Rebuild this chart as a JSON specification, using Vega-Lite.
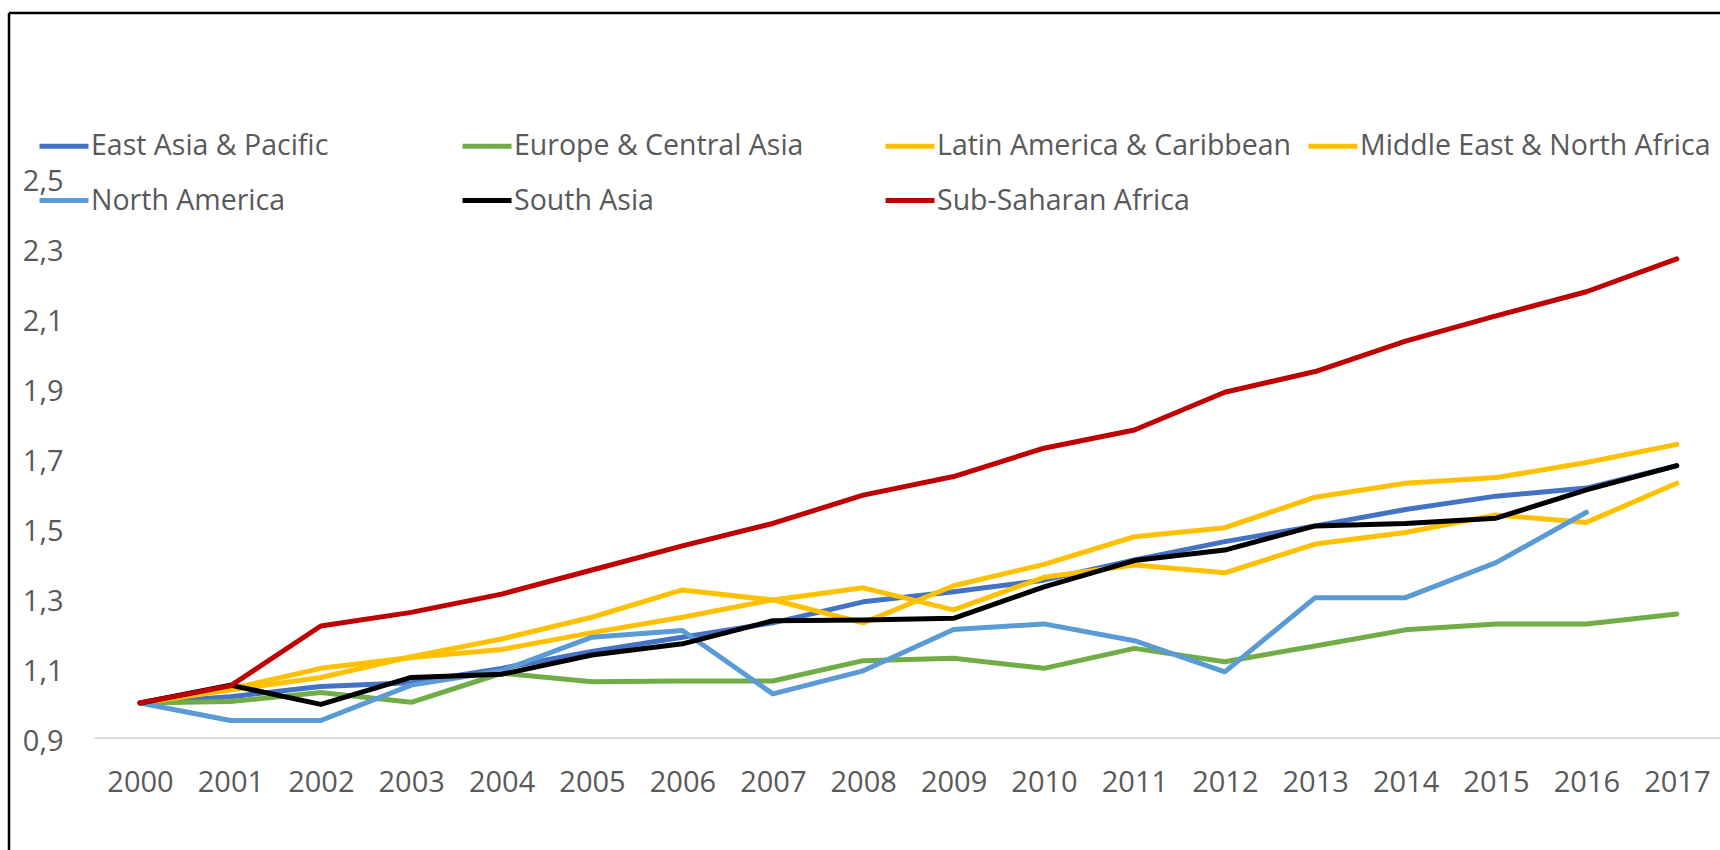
{
  "$schema": "https://vega.github.io/schema/vega-lite/v6.json",
  "width": 1711,
  "height": 837,
  "autosize": {"type": "none"},
  "padding": {"left": 9, "top": 13, "right": 0, "bottom": 0},
  "background": "#ffffff",
  "config": {
    "view": {"stroke": null},
    "font": "Open Sans",
    "axis": {"labelFont": "Open Sans", "labelFontSize": 29, "labelColor": "#595959", "grid": false, "domain": false, "ticks": false, "tickSize": 0, "title": null}
  },
  "layer": [
    {
      "data": {"values": [{"edge": 1998.5509}]},
      "mark": {"type": "rule", "color": "#000000", "strokeWidth": 2.5},
      "encoding": {"x": {"field": "edge", "type": "quantitative"}}
    },
    {
      "data": {"values": [{"edge": 2.97143}]},
      "mark": {"type": "rule", "color": "#000000", "strokeWidth": 2.5},
      "encoding": {"y": {"field": "edge", "type": "quantitative"}}
    },
    {
      "data": {"values": [{"x1": 1999.5, "x2": 2017.5, "y": 0.9}]},
      "mark": {"type": "rule", "color": "#d9d9d9", "strokeWidth": 2},
      "encoding": {
        "x": {"field": "x1", "type": "quantitative"},
        "x2": {"field": "x2"},
        "y": {"field": "y", "type": "quantitative"}
      }
    },
    {
      "data": {"values": [
        {"year": 2000, "region": "East Asia & Pacific", "value": 1.0},
        {"year": 2001, "region": "East Asia & Pacific", "value": 1.018},
        {"year": 2002, "region": "East Asia & Pacific", "value": 1.047},
        {"year": 2003, "region": "East Asia & Pacific", "value": 1.058},
        {"year": 2004, "region": "East Asia & Pacific", "value": 1.099},
        {"year": 2005, "region": "East Asia & Pacific", "value": 1.147},
        {"year": 2006, "region": "East Asia & Pacific", "value": 1.188},
        {"year": 2007, "region": "East Asia & Pacific", "value": 1.229},
        {"year": 2008, "region": "East Asia & Pacific", "value": 1.289},
        {"year": 2009, "region": "East Asia & Pacific", "value": 1.318},
        {"year": 2010, "region": "East Asia & Pacific", "value": 1.351},
        {"year": 2011, "region": "East Asia & Pacific", "value": 1.409},
        {"year": 2012, "region": "East Asia & Pacific", "value": 1.461},
        {"year": 2013, "region": "East Asia & Pacific", "value": 1.506},
        {"year": 2014, "region": "East Asia & Pacific", "value": 1.553},
        {"year": 2015, "region": "East Asia & Pacific", "value": 1.591},
        {"year": 2016, "region": "East Asia & Pacific", "value": 1.614},
        {"year": 2017, "region": "East Asia & Pacific", "value": 1.678},
        {"year": 2000, "region": "Europe & Central Asia", "value": 1.0},
        {"year": 2001, "region": "Europe & Central Asia", "value": 1.004},
        {"year": 2002, "region": "Europe & Central Asia", "value": 1.03},
        {"year": 2003, "region": "Europe & Central Asia", "value": 1.002},
        {"year": 2004, "region": "Europe & Central Asia", "value": 1.085},
        {"year": 2005, "region": "Europe & Central Asia", "value": 1.061},
        {"year": 2006, "region": "Europe & Central Asia", "value": 1.063},
        {"year": 2007, "region": "Europe & Central Asia", "value": 1.063},
        {"year": 2008, "region": "Europe & Central Asia", "value": 1.121},
        {"year": 2009, "region": "Europe & Central Asia", "value": 1.128},
        {"year": 2010, "region": "Europe & Central Asia", "value": 1.099},
        {"year": 2011, "region": "Europe & Central Asia", "value": 1.156},
        {"year": 2012, "region": "Europe & Central Asia", "value": 1.118},
        {"year": 2013, "region": "Europe & Central Asia", "value": 1.163},
        {"year": 2014, "region": "Europe & Central Asia", "value": 1.209},
        {"year": 2015, "region": "Europe & Central Asia", "value": 1.226},
        {"year": 2016, "region": "Europe & Central Asia", "value": 1.226},
        {"year": 2017, "region": "Europe & Central Asia", "value": 1.254},
        {"year": 2000, "region": "Latin America & Caribbean", "value": 1.0},
        {"year": 2001, "region": "Latin America & Caribbean", "value": 1.04},
        {"year": 2002, "region": "Latin America & Caribbean", "value": 1.099},
        {"year": 2003, "region": "Latin America & Caribbean", "value": 1.13},
        {"year": 2004, "region": "Latin America & Caribbean", "value": 1.153},
        {"year": 2005, "region": "Latin America & Caribbean", "value": 1.201},
        {"year": 2006, "region": "Latin America & Caribbean", "value": 1.245},
        {"year": 2007, "region": "Latin America & Caribbean", "value": 1.295},
        {"year": 2008, "region": "Latin America & Caribbean", "value": 1.229},
        {"year": 2009, "region": "Latin America & Caribbean", "value": 1.335},
        {"year": 2010, "region": "Latin America & Caribbean", "value": 1.396},
        {"year": 2011, "region": "Latin America & Caribbean", "value": 1.475},
        {"year": 2012, "region": "Latin America & Caribbean", "value": 1.501},
        {"year": 2013, "region": "Latin America & Caribbean", "value": 1.588},
        {"year": 2014, "region": "Latin America & Caribbean", "value": 1.628},
        {"year": 2015, "region": "Latin America & Caribbean", "value": 1.644},
        {"year": 2016, "region": "Latin America & Caribbean", "value": 1.687},
        {"year": 2017, "region": "Latin America & Caribbean", "value": 1.739},
        {"year": 2000, "region": "Middle East & North Africa", "value": 1.0},
        {"year": 2001, "region": "Middle East & North Africa", "value": 1.037},
        {"year": 2002, "region": "Middle East & North Africa", "value": 1.073},
        {"year": 2003, "region": "Middle East & North Africa", "value": 1.132},
        {"year": 2004, "region": "Middle East & North Africa", "value": 1.183},
        {"year": 2005, "region": "Middle East & North Africa", "value": 1.245},
        {"year": 2006, "region": "Middle East & North Africa", "value": 1.323},
        {"year": 2007, "region": "Middle East & North Africa", "value": 1.294},
        {"year": 2008, "region": "Middle East & North Africa", "value": 1.329},
        {"year": 2009, "region": "Middle East & North Africa", "value": 1.266},
        {"year": 2010, "region": "Middle East & North Africa", "value": 1.359},
        {"year": 2011, "region": "Middle East & North Africa", "value": 1.394},
        {"year": 2012, "region": "Middle East & North Africa", "value": 1.372},
        {"year": 2013, "region": "Middle East & North Africa", "value": 1.454},
        {"year": 2014, "region": "Middle East & North Africa", "value": 1.487},
        {"year": 2015, "region": "Middle East & North Africa", "value": 1.537},
        {"year": 2016, "region": "Middle East & North Africa", "value": 1.516},
        {"year": 2017, "region": "Middle East & North Africa", "value": 1.628},
        {"year": 2000, "region": "North America", "value": 1.0},
        {"year": 2001, "region": "North America", "value": 0.95},
        {"year": 2002, "region": "North America", "value": 0.95},
        {"year": 2003, "region": "North America", "value": 1.051},
        {"year": 2004, "region": "North America", "value": 1.092},
        {"year": 2005, "region": "North America", "value": 1.188},
        {"year": 2006, "region": "North America", "value": 1.207},
        {"year": 2007, "region": "North America", "value": 1.026},
        {"year": 2008, "region": "North America", "value": 1.092},
        {"year": 2009, "region": "North America", "value": 1.21},
        {"year": 2010, "region": "North America", "value": 1.226},
        {"year": 2011, "region": "North America", "value": 1.178},
        {"year": 2012, "region": "North America", "value": 1.089},
        {"year": 2013, "region": "North America", "value": 1.301},
        {"year": 2014, "region": "North America", "value": 1.301},
        {"year": 2015, "region": "North America", "value": 1.401},
        {"year": 2016, "region": "North America", "value": 1.545},
        {"year": 2000, "region": "South Asia", "value": 1.0},
        {"year": 2001, "region": "South Asia", "value": 1.051},
        {"year": 2002, "region": "South Asia", "value": 0.996},
        {"year": 2003, "region": "South Asia", "value": 1.073},
        {"year": 2004, "region": "South Asia", "value": 1.082},
        {"year": 2005, "region": "South Asia", "value": 1.137},
        {"year": 2006, "region": "South Asia", "value": 1.169},
        {"year": 2007, "region": "South Asia", "value": 1.235},
        {"year": 2008, "region": "South Asia", "value": 1.237},
        {"year": 2009, "region": "South Asia", "value": 1.242},
        {"year": 2010, "region": "South Asia", "value": 1.332},
        {"year": 2011, "region": "South Asia", "value": 1.407},
        {"year": 2012, "region": "South Asia", "value": 1.437},
        {"year": 2013, "region": "South Asia", "value": 1.506},
        {"year": 2014, "region": "South Asia", "value": 1.513},
        {"year": 2015, "region": "South Asia", "value": 1.528},
        {"year": 2016, "region": "South Asia", "value": 1.609},
        {"year": 2017, "region": "South Asia", "value": 1.678},
        {"year": 2000, "region": "Sub-Saharan Africa", "value": 1.0},
        {"year": 2001, "region": "Sub-Saharan Africa", "value": 1.049},
        {"year": 2002, "region": "Sub-Saharan Africa", "value": 1.22},
        {"year": 2003, "region": "Sub-Saharan Africa", "value": 1.259},
        {"year": 2004, "region": "Sub-Saharan Africa", "value": 1.311},
        {"year": 2005, "region": "Sub-Saharan Africa", "value": 1.38},
        {"year": 2006, "region": "Sub-Saharan Africa", "value": 1.449},
        {"year": 2007, "region": "Sub-Saharan Africa", "value": 1.513},
        {"year": 2008, "region": "Sub-Saharan Africa", "value": 1.594},
        {"year": 2009, "region": "Sub-Saharan Africa", "value": 1.647},
        {"year": 2010, "region": "Sub-Saharan Africa", "value": 1.728},
        {"year": 2011, "region": "Sub-Saharan Africa", "value": 1.78},
        {"year": 2012, "region": "Sub-Saharan Africa", "value": 1.888},
        {"year": 2013, "region": "Sub-Saharan Africa", "value": 1.947},
        {"year": 2014, "region": "Sub-Saharan Africa", "value": 2.034},
        {"year": 2015, "region": "Sub-Saharan Africa", "value": 2.106},
        {"year": 2016, "region": "Sub-Saharan Africa", "value": 2.175},
        {"year": 2017, "region": "Sub-Saharan Africa", "value": 2.269}
      ]},
      "mark": {"type": "line", "strokeWidth": 5, "strokeCap": "round", "strokeJoin": "round"},
      "encoding": {
        "x": {
          "field": "year", "type": "quantitative",
          "scale": {"domain": [1998.5509, 2017.478], "nice": false, "zero": false},
          "axis": {"orient": "bottom", "values": [2000,2001,2002,2003,2004,2005,2006,2007,2008,2009,2010,2011,2012,2013,2014,2015,2016,2017], "format": "d", "offset": -68, "labelPadding": 0, "labelBaseline": "middle", "labelFlush": false, "labelOverlap": false}
        },
        "y": {
          "field": "value", "type": "quantitative",
          "scale": {"domain": [0.58, 2.97143], "nice": false, "zero": false},
          "axis": {"orient": "left", "values": [0.9,1.1,1.3,1.5,1.7,1.9,2.1,2.3,2.5], "labelExpr": "replace(format(datum.value, '.1f'), '.', ',')", "offset": -54, "labelPadding": 0, "labelOffset": 3, "labelFlush": false, "labelOverlap": false}
        },
        "color": {
          "field": "region", "type": "nominal",
          "scale": {
            "domain": ["East Asia & Pacific", "Europe & Central Asia", "Latin America & Caribbean", "Middle East & North Africa", "North America", "South Asia", "Sub-Saharan Africa"],
            "range": ["#4472C4", "#70AD47", "#FFC000", "#FFC000", "#5B9BD5", "#000000", "#C00000"]
          },
          "legend": {
            "title": null, "orient": "none", "direction": "horizontal", "legendX": 28, "legendY": 106,
            "columns": 4, "gridAlign": "all", "columnPadding": 6, "rowPadding": 12.5,
            "symbolType": "stroke", "symbolSize": 2401, "symbolStrokeWidth": 5,
            "labelFont": "Open Sans", "labelFontSize": 28.5, "labelColor": "#595959", "labelOffset": 0, "labelLimit": 0, "padding": 0
          }
        }
      }
    }
  ]
}
